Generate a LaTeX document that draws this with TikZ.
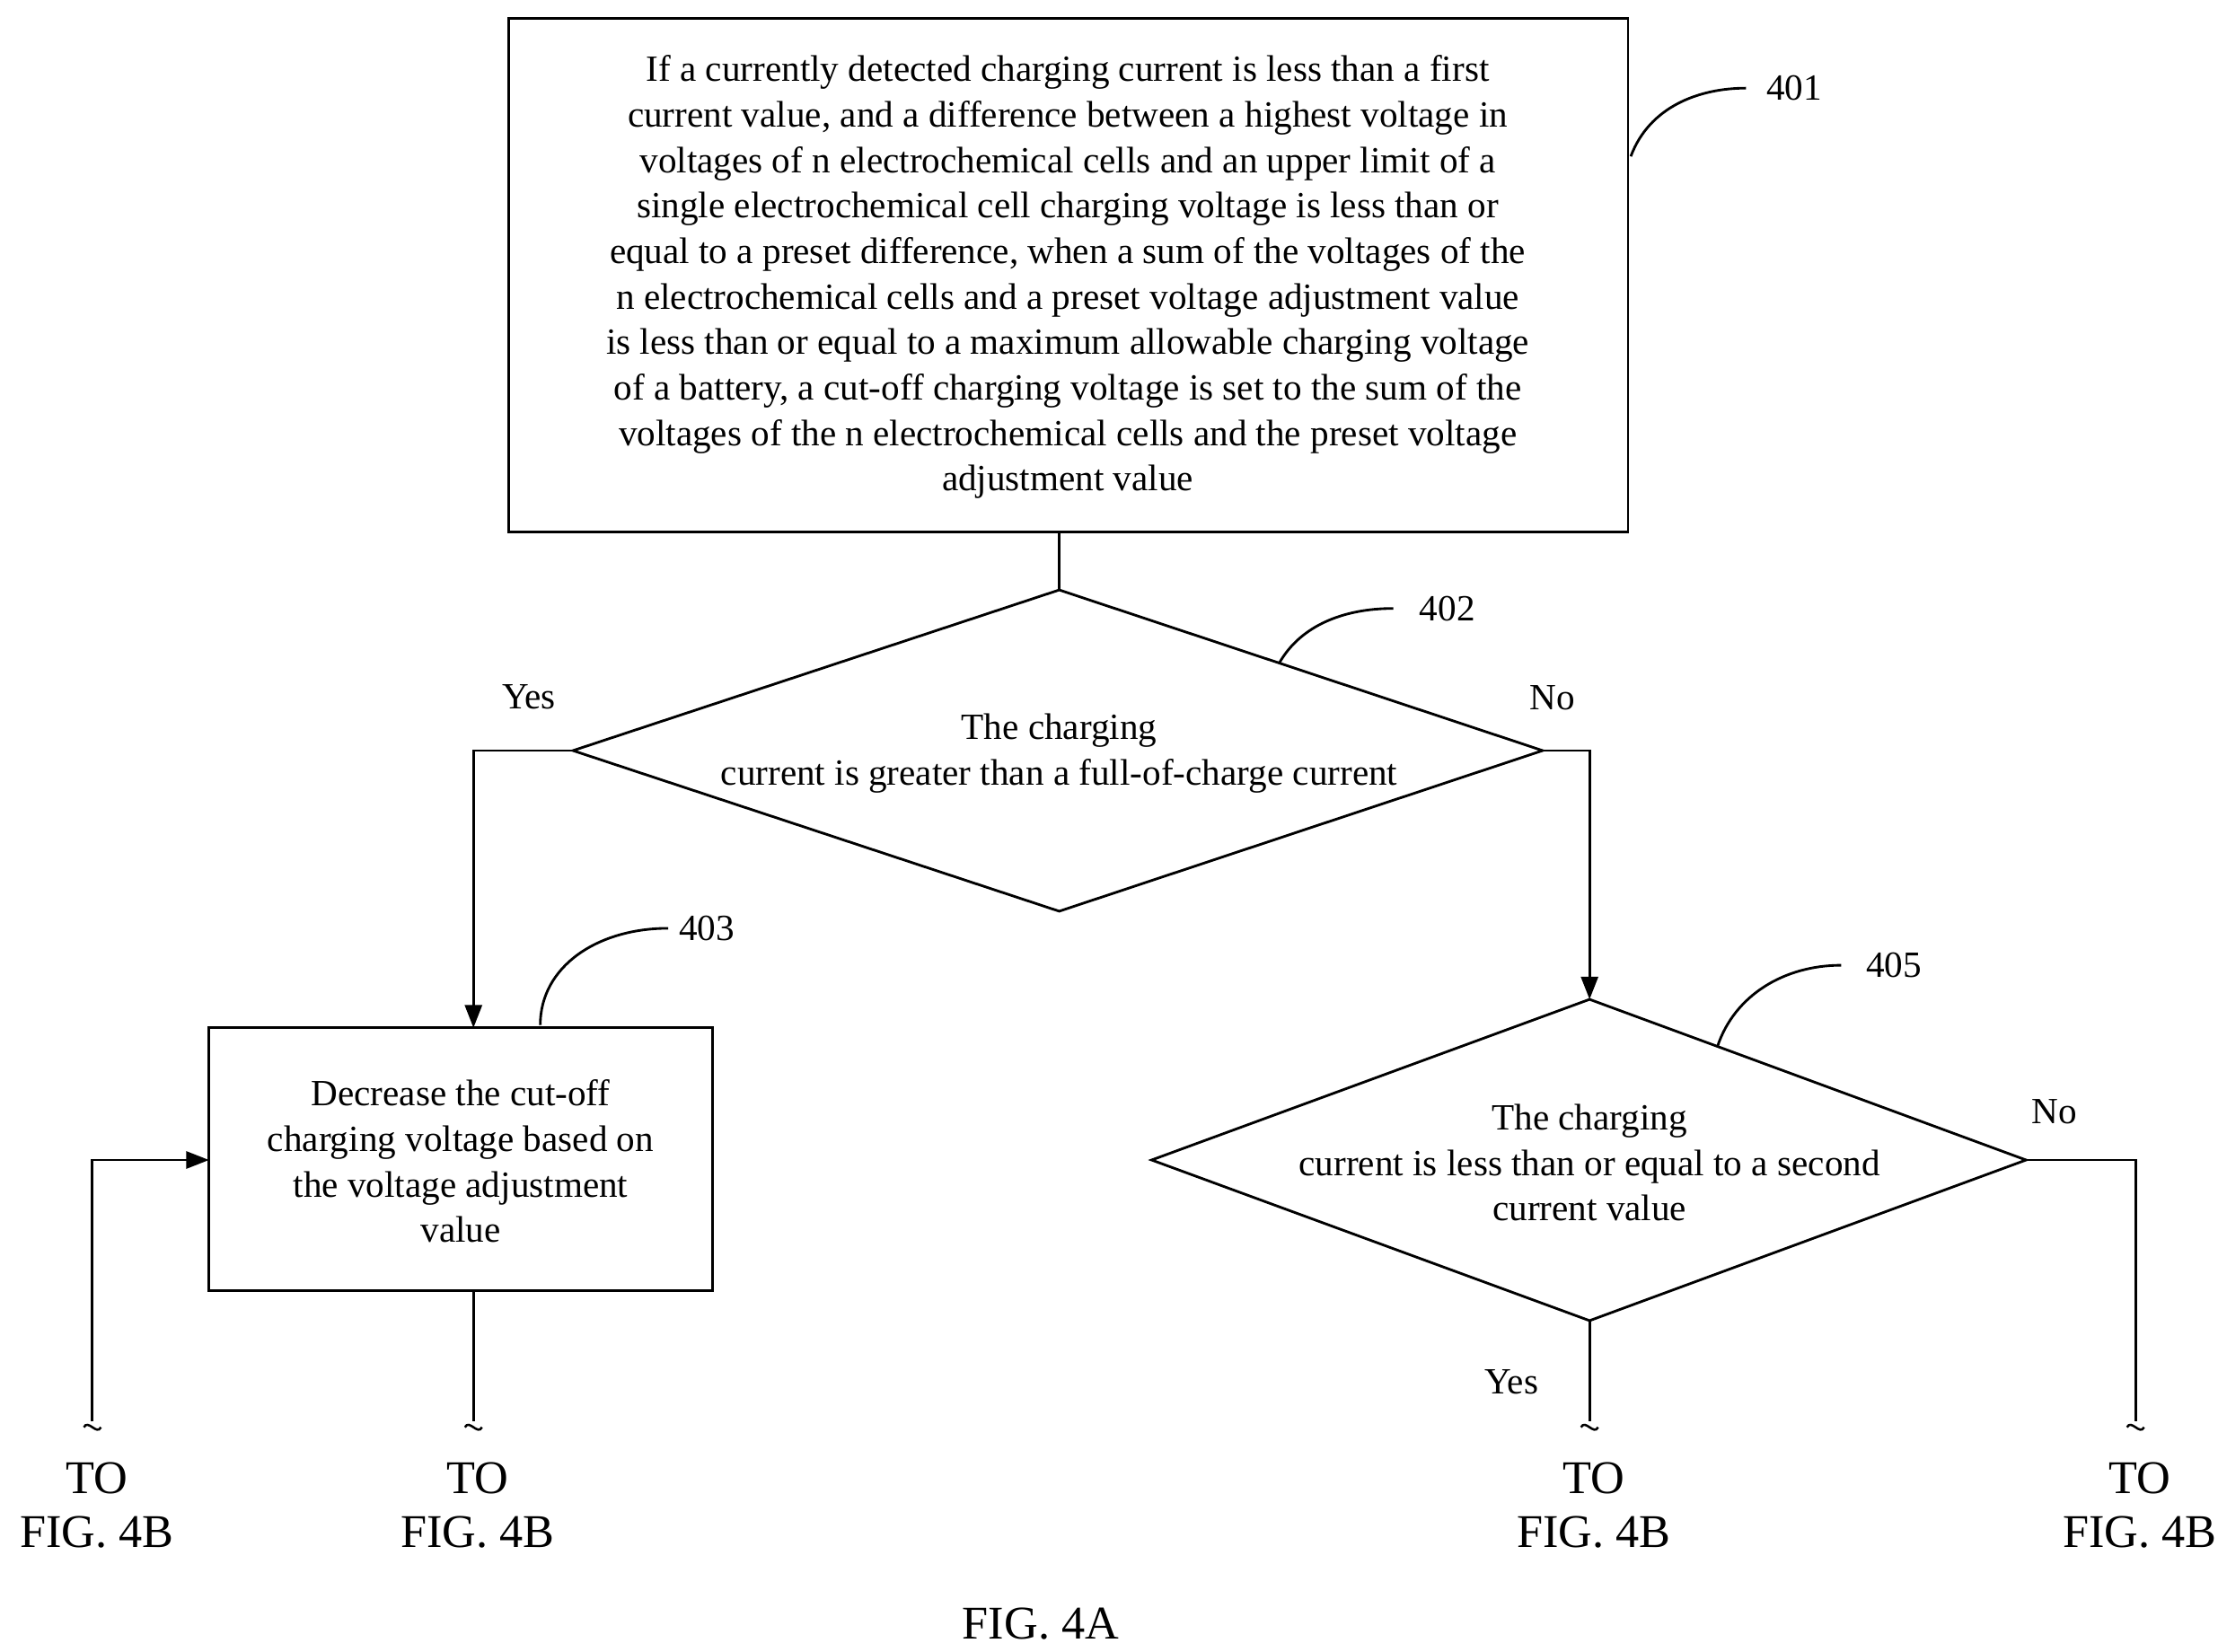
\documentclass[tikz,border=0pt]{standalone}
\usepackage{fontspec}
\setmainfont{Liberation Serif}
\usetikzlibrary{shapes.geometric,arrows.meta}
\begin{document}
\begin{tikzpicture}[x=0.5pt,y=-0.5pt,line width=0.9pt,
  txt/.style={font=\fontsize{13}{16}\selectfont,align=center,inner sep=0},
  big/.style={font=\fontsize{16.5}{19}\selectfont,align=center,inner sep=0},
  arr/.style={-{Triangle[length=8pt,width=6pt]}},
  til/.style={line width=0.8pt}]
\useasboundingbox (0,0) rectangle (1560,1162);
% box 401
\node[draw,minimum width=393.5pt,minimum height=180.5pt,inner sep=0] (b1) at (751.5,193.5) {};
\node[txt] (t1) at (751,195) {If a currently detected charging current is less than a first\\current value, and a difference between a highest voltage in\\voltages of n electrochemical cells and an upper limit of a\\single electrochemical cell charging voltage is less than or\\equal to a preset difference, when a sum of the voltages of the\\n electrochemical cells and a preset voltage adjustment value\\is less than or equal to a maximum allowable charging voltage\\of a battery, a cut-off charging voltage is set to the sum of the\\voltages of the n electrochemical cells and the preset voltage\\adjustment value};
\node[txt] (l1) at (1262,62) {401};
\draw (1147,110) .. controls (1160,75) and (1195,62) .. (1228,62);
% diamond 402
\coordinate (d2t) at (745,415); \coordinate (d2l) at (403,528);
\coordinate (d2r) at (1085,528); \coordinate (d2b) at (745,641);
\draw (d2t) -- (d2r) -- (d2b) -- (d2l) -- cycle;
\node[txt] (t2) at (745,530) {The charging\\current is greater than a full-of-charge current};
\draw (745,374) -- (d2t);
\node[txt] (l2) at (1018,428) {402};
\draw (900,466) .. controls (915,440) and (945,428) .. (980,428);
% yes branch
\node[txt] (y1) at (372,490) {Yes};
\node[draw,minimum width=177pt,minimum height=92.5pt,inner sep=0] (b3) at (324,815.5) {};
\node[txt] (t3) at (324,817) {Decrease the cut-off\\charging voltage based on\\the voltage adjustment\\value};
\draw[arr] (d2l) -- (333,528) -- (333,723);
\node[txt] (l3) at (497,653) {403};
\draw (380,721) .. controls (380,680) and (420,653) .. (470,653);
% no branch
\node[txt] (n1) at (1092,491) {No};
\coordinate (d5t) at (1118,703); \coordinate (d5l) at (810,816);
\coordinate (d5r) at (1425,816); \coordinate (d5b) at (1118,929);
\draw[arr] (d2r) -- (1118,528) -- (d5t);
\draw (d5t) -- (d5r) -- (d5b) -- (d5l) -- cycle;
\node[txt] (t5) at (1118,818) {The charging\\current is less than or equal to a second\\current value};
\node[txt] (l5) at (1332,679) {405};
\draw (1208,736) .. controls (1220,700) and (1255,679) .. (1295,679);
\node[txt] (n2) at (1445,782) {No};
\node[txt] (y2) at (1063,972) {Yes};
% ends
\foreach \x/\n in {65/a,333/b,1118/c,1502/d}{
  \coordinate (e\n) at (\x,1000);
  \draw[til] (\x-6,1004) .. controls (\x-3,998) and (\x+3,1010) .. (\x+6,1004);
  \node[big] at (\x+3,1059) {TO\\FIG. 4B};
}
\draw (d5r) -- (1502,816) -- (ed);
\draw (d5b) -- (ec);
\draw (333,908) -- (eb);
\draw[arr] (ea) -- (65,816) -- (147,816);
\node[big] (fig) at (732,1142) {FIG. 4A};
\end{tikzpicture}
\end{document}
